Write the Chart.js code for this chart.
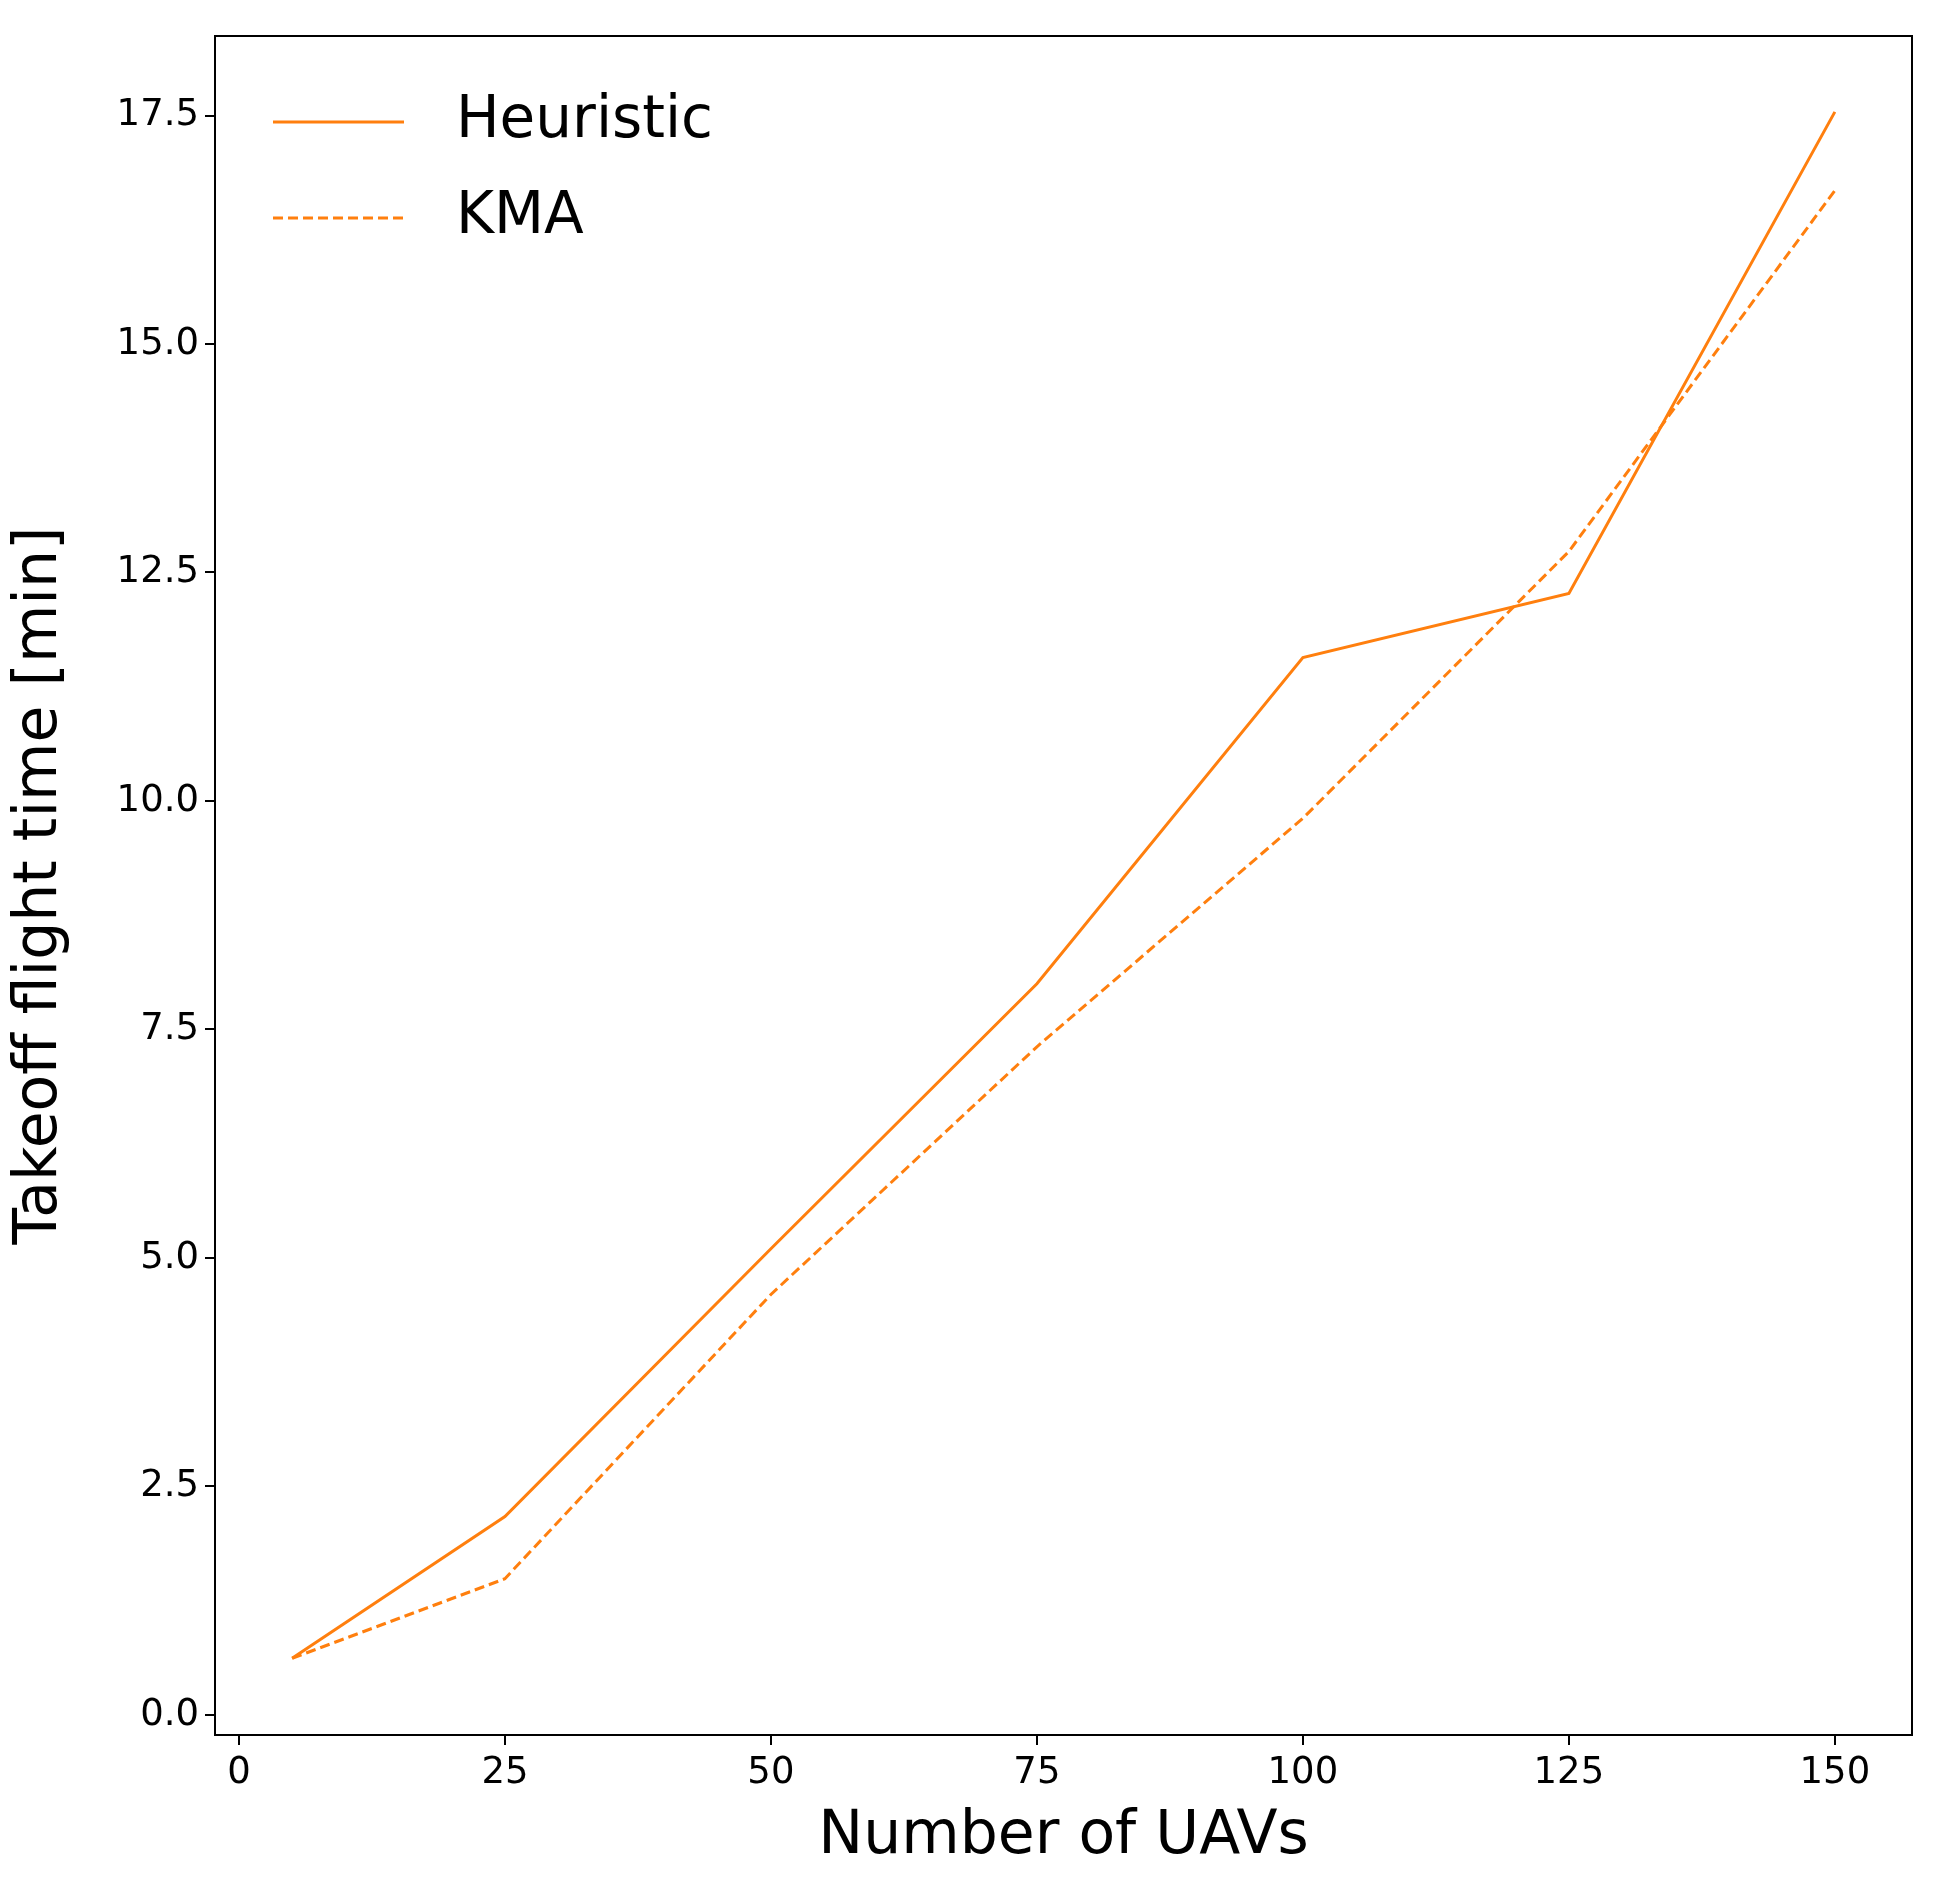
<!DOCTYPE html>
<html><head><meta charset="utf-8">
<script src="https://cdn.jsdelivr.net/npm/chart.js@4/dist/chart.umd.min.js"></script>
<style>body{margin:0;background:#fff}#wrap{width:1936px;height:1877px}</style>
</head><body><div id="wrap"><canvas id="c"></canvas></div>
<script>
// data
const uavs = [5, 25, 50, 75, 100, 125, 150];
const heuristic = [0.62, 2.17, 5.1, 8.0, 11.57, 12.27, 17.54];
const kma = [0.62, 1.49, 4.6, 7.31, 9.81, 12.73, 16.68];
const xTicks = [0, 25, 50, 75, 100, 125, 150];
const yTicks = [0, 2.5, 5, 7.5, 10, 12.5, 15, 17.5];
const orange = '#ff7f0e';
const font = 'DejaVu Sans';

const pts = ys => uavs.map((x, i) => ({ x: x, y: ys[i] }));

// box around plot + legend drawn inside the axes
const extras = {
    id: 'extras',
    afterDraw(chart) {
        const { ctx, chartArea: a } = chart;
        ctx.save();
        ctx.strokeStyle = '#000'; ctx.lineWidth = 2;
        ctx.strokeRect(a.left, a.top, a.right - a.left, a.bottom - a.top);
        ctx.font = '58px "' + font + '"';
        ctx.textBaseline = 'middle';
        chart.data.datasets.forEach((ds, i) => {
            const y = 122 + i * 96;
            ctx.strokeStyle = ds.borderColor; ctx.lineWidth = ds.borderWidth;
            ctx.setLineDash(ds.borderDash || []);
            ctx.beginPath(); ctx.moveTo(273, y); ctx.lineTo(404, y); ctx.stroke();
            ctx.setLineDash([]);
            ctx.fillStyle = '#000';
            ctx.fillText(ds.label, 456, y);
        });
        ctx.restore();
    }
};

const tickOpts = { color: '#000', font: { family: font, size: 37 } };
const gridOpts = { drawOnChartArea: false, drawTicks: true, tickLength: 10, color: '#000', lineWidth: 2 };

new Chart(document.getElementById('c'), {
    type: 'line',
    data: { datasets: [
        { label: 'Heuristic', data: pts(heuristic), borderColor: orange, borderWidth: 3, pointRadius: 0, tension: 0 },
        { label: 'KMA', data: pts(kma), borderColor: orange, borderWidth: 3, borderDash: [10, 5], pointRadius: 0, tension: 0 }
    ] },
    options: {
        responsive: true, maintainAspectRatio: false, animation: false,
        layout: { padding: { top: 36, right: 24, left: 0, bottom: 0 } },
        plugins: { legend: { display: false }, tooltip: { enabled: false } },
        scales: {
            x: {
                type: 'linear', min: -2.25, max: 157.25,
                afterBuildTicks: s => { s.ticks = xTicks.map(v => ({ value: v })); },
                afterFit: s => { s.height = 142; },
                ticks: { ...tickOpts, maxRotation: 0, padding: 6 },
                grid: gridOpts, border: { display: false },
                title: { display: true, text: 'Number of UAVs', color: '#000', font: { family: font, size: 60 }, padding: { top: 0 } }
            },
            y: {
                min: -0.22, max: 18.37,
                afterBuildTicks: s => { s.ticks = yTicks.map(v => ({ value: v })); },
                afterFit: s => { s.width = 215; },
                ticks: { ...tickOpts, padding: 6, callback: v => v.toFixed(1) },
                grid: gridOpts, border: { display: false },
                title: { display: true, text: 'Takeoff flight time [min]', color: '#000', font: { family: font, size: 60 }, padding: { bottom: 4 } }
            }
        }
    },
    plugins: [extras]
});
</script></body></html>
